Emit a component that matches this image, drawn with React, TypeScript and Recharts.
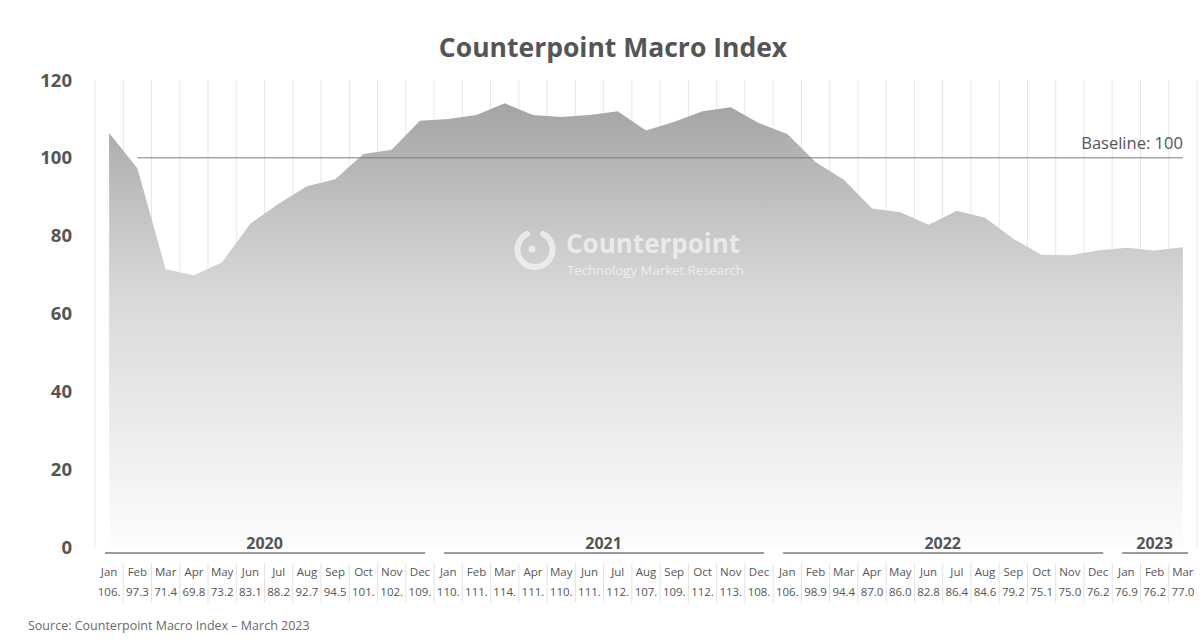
import React from 'react';
import { AreaChart, Area, XAxis, YAxis, CartesianGrid, ReferenceLine, Label } from 'recharts';

const MONTHS = ['Jan', 'Feb', 'Mar', 'Apr', 'May', 'Jun', 'Jul', 'Aug', 'Sep', 'Oct', 'Nov', 'Dec'];
const YEARS = ['2020', '2021', '2022', '2023'];
const MONTHS_PER_YEAR = [12, 12, 12, 3];
const INDEX_VALUES = [
  106.4, 97.3, 71.4, 69.8, 73.2, 83.1, 88.2, 92.7, 94.5, 101.0, 102.1, 109.5,
  110.0, 111.0, 114.0, 111.0, 110.5, 111.0, 112.0, 107.0, 109.3, 112.0, 113.0, 108.9,
  106.1, 98.9, 94.4, 87.0, 86.0, 82.8, 86.4, 84.6, 79.2, 75.1, 75.0, 76.2,
  76.9, 76.2, 77.0,
];
const Y_TICKS = [0, 20, 40, 60, 80, 100, 120];
const BASELINE = 100;

// rows: one per month, with year grouping info for the axis
const data: any[] = [];
YEARS.forEach((year, yi) => {
  for (let m = 0; m < MONTHS_PER_YEAR[yi]; m++) {
    const i = data.length;
    data.push({
      key: `${MONTHS[m]} ${year}`,
      month: MONTHS[m],
      year,
      first: m === 0,
      count: MONTHS_PER_YEAR[yi],
      value: INDEX_VALUES[i],
    });
  }
});

const W = 1200;
const H = 644;
const LEFT = 95;
const RIGHT = 3;
const TOP = 80;
const X_AXIS_H = 97;
const BAND = (W - LEFT - RIGHT) / data.length;
const FONT = '"Open Sans", "Noto Sans", sans-serif';
const TEXT = '#555555';

// labels in the table are cut to 4 characters
const fmtValue = (v: number) => v.toFixed(1).slice(0, 4);

function MonthTick(props: any) {
  const { x, y, index } = props;
  const d = data[index];
  if (!d) return null;
  const left = x - BAND / 2;
  return (
    <g>
      {d.first && (
        <g>
          <text x={left + (d.count * BAND) / 2} y={y - 4.5} textAnchor="middle" dominantBaseline="central"
            fontFamily={FONT} fontWeight={700} fontSize={16} fill={TEXT}>{d.year}</text>
          <line x1={left + 10} x2={left + d.count * BAND - 9} y1={y + 6} y2={y + 6} stroke="#7a7a7a" strokeWidth={1.5} />
        </g>
      )}
      <text x={x} y={y + 24.5} textAnchor="middle" dominantBaseline="central" fontFamily={FONT} fontSize={11.5} fill={TEXT}>
        {d.month}
      </text>
      <text x={x} y={y + 44.5} textAnchor="middle" dominantBaseline="central" fontFamily={FONT} fontSize={11.5} fill={TEXT}>
        {fmtValue(d.value)}
      </text>
      {index < data.length - 1 && (
        <line x1={left + BAND} x2={left + BAND} y1={y + 16} y2={y + 56} stroke="#e2e2e2" />
      )}
    </g>
  );
}

function BaselineLabel(props: any) {
  const vb = props.viewBox || {};
  return (
    <text x={vb.x + vb.width} y={vb.y - 15} textAnchor="end" dominantBaseline="central" fontFamily={FONT} fontSize={16.5} fill={TEXT}>
      Baseline: 100
    </text>
  );
}

function Watermark() {
  return (
    <div style={{ position: 'absolute', left: 505, top: 222, width: 260, height: 64, opacity: 0.6 }}>
      <svg width={56} height={64} style={{ position: 'absolute', left: 0, top: 0 }}>
        <path d="M 38 12 A 17.5 17.5 0 1 1 22 12" fill="none" stroke="#ffffff" strokeWidth={6} strokeLinecap="round" />
        <circle cx={27} cy={27} r={3.5} fill="#ffffff" />
      </svg>
      <div style={{ position: 'absolute', left: 61, top: 6, fontFamily: FONT, fontWeight: 700, fontSize: 26, color: '#fff', lineHeight: '30px', whiteSpace: 'nowrap' }}>
        Counterpoint
      </div>
      <div style={{ position: 'absolute', left: 62, top: 40, fontFamily: FONT, fontSize: 13.2, color: '#fff', lineHeight: '16px', whiteSpace: 'nowrap' }}>
        Technology Market Research
      </div>
    </div>
  );
}

export default function App() {
  return (
    <div style={{ position: 'absolute', left: 0, top: 0, width: W, height: H, background: '#fff', overflow: 'hidden' }}>
      <AreaChart width={W} height={H} data={data} margin={{ top: TOP, right: RIGHT, left: 0, bottom: 0 }}>
        <defs>
          <linearGradient id="areaGrad" x1="0" y1="0" x2="0" y2="1">
            <stop offset="0%" stopColor="#a4a4a4" />
            <stop offset="25%" stopColor="#c4c4c4" />
            <stop offset="45%" stopColor="#dadada" />
            <stop offset="100%" stopColor="#fdfdfd" />
          </linearGradient>
        </defs>
        <CartesianGrid
          horizontal={false}
          stroke="#e6e6e6"
          verticalCoordinatesGenerator={({ offset }: any) =>
            Array.from({ length: data.length + 1 }, (_, i) => offset.left + (i * offset.width) / data.length)
          }
        />
        <YAxis
          width={LEFT}
          domain={[0, 120]}
          ticks={Y_TICKS}
          axisLine={false}
          tickLine={false}
          tickSize={0}
          tickMargin={23}
          tick={{ fontFamily: FONT, fontWeight: 700, fontSize: 18.5, fill: TEXT }}
        />
        <Area type="linear" dataKey="value" stroke="none" fill="url(#areaGrad)" fillOpacity={1} isAnimationActive={false} />
        <ReferenceLine
          segment={[{ x: data[1].key, y: BASELINE }, { x: data[data.length - 1].key, y: BASELINE }]}
          stroke="#7a7a7a"
          strokeWidth={1}
        >
          <Label content={BaselineLabel} />
        </ReferenceLine>
        <XAxis
          dataKey="key"
          interval={0}
          height={X_AXIS_H}
          axisLine={false}
          tickLine={false}
          tickSize={0}
          tickMargin={0}
          padding={{ left: BAND / 2, right: BAND / 2 }}
          tick={<MonthTick />}
        />
      </AreaChart>
      <div style={{ position: 'absolute', left: 0, width: W, top: 29, textAlign: 'center', paddingLeft: 26, boxSizing: 'border-box', fontFamily: FONT, fontWeight: 700, fontSize: 26.5, color: TEXT, lineHeight: '36px' }}>
        Counterpoint Macro Index
      </div>
      <Watermark />
      <div style={{ position: 'absolute', left: 28, top: 617, fontFamily: FONT, fontSize: 12.5, color: '#6a6a6a', lineHeight: '18px', whiteSpace: 'nowrap' }}>
        Source: Counterpoint Macro Index – March 2023
      </div>
    </div>
  );
}
